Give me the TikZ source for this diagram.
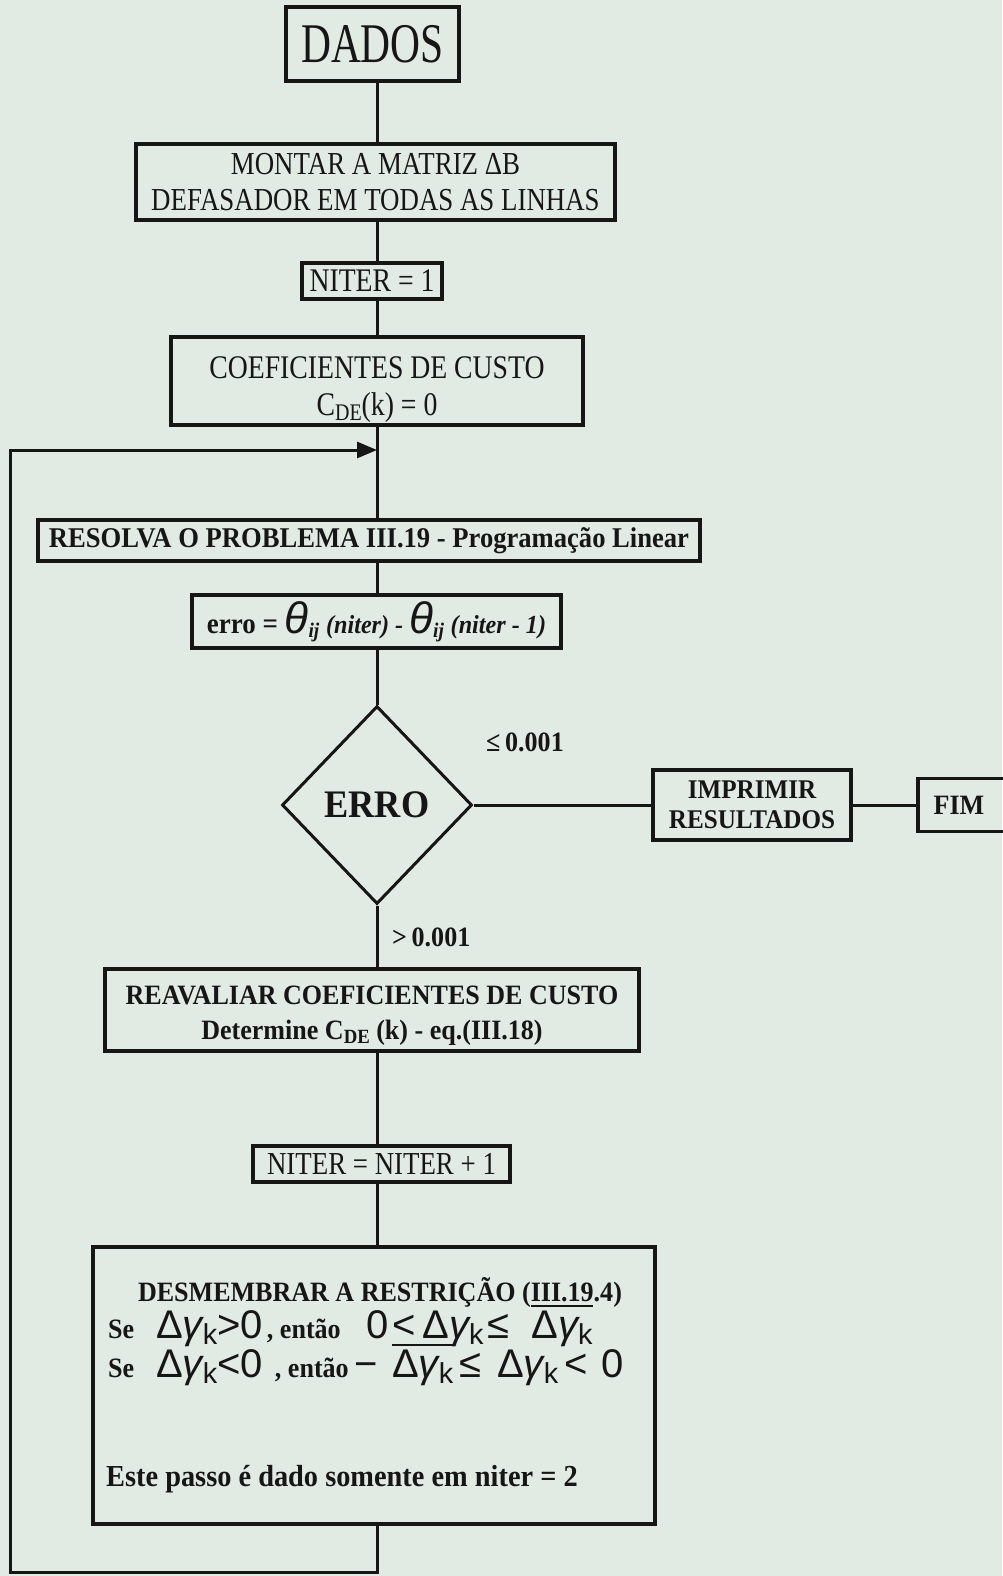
\documentclass[tikz,border=0pt]{standalone}
\usepackage{fontspec}
\setmainfont{Liberation Serif}
\newfontfamily\largo[FakeStretch=0.74]{Liberation Serif}
\newfontfamily\estreito[FakeStretch=0.84]{Liberation Serif}
\newfontfamily\medio[FakeStretch=0.93]{Liberation Serif}
\newfontfamily\simb{Liberation Sans}
\usetikzlibrary{shapes.geometric,arrows.meta}
\definecolor{papel}{RGB}{226,234,228}
\definecolor{tinta}{RGB}{22,22,22}
\newcommand{\fsz}[2]{\fontsize{#1}{#2}\selectfont}
\newcommand{\dn}[1]{\raisebox{-0.3ex}{\scalebox{0.72}{#1}}}
\newcommand{\barra}[1]{\vbox{\hrule height 2.2pt\kern 3pt\hbox{#1}}}
\newcommand{\teta}{{\simb\itshape\mdseries\fsz{44}{44}θ}\dn{\itshape ij}}
\newcommand{\dg}{Δ{\itshape γ}\dn{k}}
\newcommand{\sm}[1]{{\simb\mdseries\fsz{40}{40}#1}}
\tikzset{
	caixa/.style={draw=tinta, line width=3.5pt, inner sep=0pt, align=center, text=tinta},
	liga/.style={draw=tinta, line width=3pt, line join=miter},
	rotulo/.style={inner sep=0pt, text=tinta, align=center, font=\medio\bfseries\fsz{28}{35}},
	mat/.style={inner sep=0pt, text=tinta, font=\medio\bfseries\fsz{28}{30}, anchor=base west}
}

\begin{document}
\begin{tikzpicture}[x=1pt,y=-1pt]
		\fill[papel] (0,0) rectangle (1002,1576);
		\useasboundingbox (0,0) rectangle (1002,1576);
		\coordinate (eixo) at (377,0);
		\node[caixa, minimum width=173pt, minimum height=74pt, font=\largo\fsz{56}{56}] (dados) at (372.5,44) {DADOS};
		\node[caixa, minimum width=479pt, minimum height=76pt, font=\estreito\fsz{32}{36}] (montar) at (375.5,182) {MONTAR A MATRIZ ΔB\\DEFASADOR EM TODAS AS LINHAS};
		\node[caixa, minimum width=140pt, minimum height=36pt, font=\estreito\fsz{33}{36}] (niter) at (372,281) {NITER = 1};
		\node[caixa, minimum width=412pt, minimum height=88pt] (coef) at (377,381) {};
		\node[rotulo, font=\estreito\fsz{33}{37}] (coefT) at (377,390) {COEFICIENTES DE CUSTO\\C\dn{DE}(k) = 0};
		\node[caixa, minimum width=662pt, minimum height=41pt, font=\medio\bfseries\fsz{28.6}{30}] (resolva) at (369,540.5) {RESOLVA O PROBLEMA III.19 - Programação Linear};
		\node[caixa, minimum width=369pt, minimum height=53pt, font=\medio\bfseries\fsz{29}{30}] (erro) at (376.5,621.5) {erro = \teta\ {\fsz{26}{26}\itshape (niter) - }\teta\ {\fsz{26}{26}\itshape (niter - 1)}};
		\node[diamond, draw=tinta, line width=3pt, inner sep=0pt, minimum width=190pt, minimum height=198pt, text=tinta, font=\medio\bfseries\fsz{39}{40}] (teste) at (377,805) {ERRO};
		\node[rotulo] (le) at (525,742) {≤\,0.001};
		\node[caixa, minimum width=198pt, minimum height=70pt, font=\medio\bfseries\fsz{27}{30}] (imprimir) at (752,805) {IMPRIMIR\\RESULTADOS};
		\node[caixa, minimum width=94pt, minimum height=53pt] (fim) at (965,805) {};
		\node[rotulo] (fimT) at (959,805) {FIM};
		\node[rotulo, anchor=west] (gt) at (392,937) {>\,0.001};
		\node[caixa, minimum width=534pt, minimum height=82pt] (reav) at (372,1010) {};
		\node[rotulo] (reavT) at (372,1016) {REAVALIAR COEFICIENTES DE CUSTO\\Determine C\dn{DE}\ (k) - eq.(III.18)};
		\node[caixa, minimum width=257pt, minimum height=36pt, font=\estreito\fsz{32}{34}] (niterb) at (381.5,1164) {NITER = NITER + 1};
		\node[caixa, minimum width=562pt, minimum height=277pt] (desm) at (374,1385.5) {};
		\node[rotulo] (titulo) at (380,1292) {DESMEMBRAR A RESTRIÇÃO (III.19.4)};
		\node[mat] (seA) at (108,1338) {Se\hspace{22pt}\sm{\dg>0}\hspace{4pt}, então\hspace{26pt}\sm{0\hspace{4pt}<\hspace{6pt}\dg\hspace{4pt}≤\hspace{22pt}\barra{\dg}}};
		\node[mat] (seB) at (108,1377) {Se\hspace{22pt}\sm{\dg<0}\hspace{12pt}, então\hspace{6pt}\sm{−\hspace{14pt}\barra{\dg}\hspace{6pt}≤\hspace{16pt}\dg\hspace{6pt}<\hspace{14pt}0}};
		\node[mat, font=\medio\bfseries\fsz{30.5}{32}] (este) at (106,1486) {Este passo é dado somente em niter = 2};
		\draw[liga] (dados.south -| eixo) -- (montar.north -| eixo);
		\draw[liga] (montar.south -| eixo) -- (niter.north -| eixo);
		\draw[liga] (niter.south -| eixo) -- (coef.north -| eixo);
		\draw[liga] (coef.south -| eixo) -- (resolva.north -| eixo);
		\draw[liga] (resolva.south -| eixo) -- (erro.north -| eixo);
		\draw[liga] (erro.south -| eixo) -- (teste.north);
		\draw[liga] (teste.east) -- (imprimir.west);
		\draw[liga] (imprimir.east) -- (fim.west);
		\draw[liga] (teste.south) -- (reav.north -| eixo);
		\draw[liga] (reav.south -| eixo) -- (niterb.north -| eixo);
		\draw[liga] (niterb.south -| eixo) -- (desm.north -| eixo);
		\coordinate (canto) at (10,1572);
		\coordinate (volta) at (10,450);
		\draw[liga, -{Triangle[length=20pt,width=16pt]}] (desm.south -| eixo) |- (canto) -- (volta) -- (volta -| eixo);
	\end{tikzpicture}
\end{document}
